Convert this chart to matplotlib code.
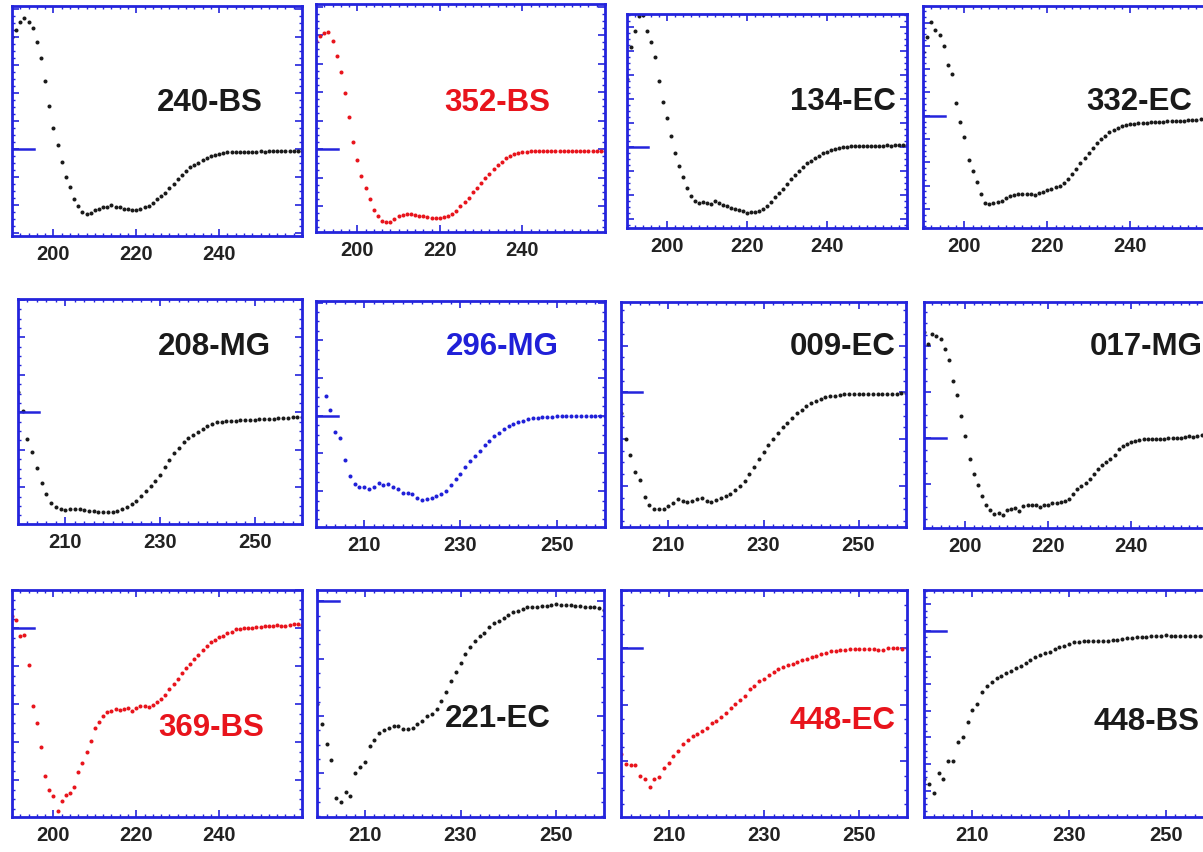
import matplotlib
matplotlib.use('Agg')
import matplotlib.pyplot as plt
from matplotlib.ticker import MultipleLocator
import numpy as np

plt.rcParams['font.family'] = ['Liberation Sans', 'DejaVu Sans']

# CD spectra, mean residue ellipticity (arbitrary 10^3 units), 1 nm steps
names = ['240-BS', '352-BS', '134-EC', '332-EC',
         '208-MG', '296-MG', '009-EC', '017-MG',
         '369-BS', '221-EC', '448-EC', '448-BS']
colours = ['k', 'r', 'k', 'k',
           'k', 'b', 'k', 'k',
           'r', 'k', 'r', 'k']
start_wl = [190, 190, 190, 190,
            200, 202, 200, 190,
            190, 200, 200, 200]
xranges = [(190, 260), (190, 260), (190, 260), (190, 260),
           (200, 260), (200, 260), (200, 260), (190, 260),
           (190, 260), (200, 260), (200, 260), (200, 260)]
yranges = [(-31, 51), (-29.1, 50.9), (-33.6, 55.5), (-48.2, 47.1),
           (-29.8, 30.2), (-29.5, 30.4), (-28.8, 19.3), (-19.5, 29.6),
           (-49.7, 10.1), (-37.6, 2.0), (-29.8, 10.2), (-69.8, 15.2)]
xlabels_a = [200, 220, 240]
xlabels_b = [210, 230, 250]

bs240 = [39.9, 42.3, 45.2, 46.7, 45.2, 43.1, 38.3, 32.4, 24.4, 15.5,
         7.4, 1.4, -4.5, -10.1, -13.7, -17.9, -20.2, -22.4, -23.2, -22.9,
         -21.7, -21.2, -20.8, -20.5, -20.0, -20.5, -20.8, -21.2, -21.4, -21.7,
         -21.7, -21.2, -20.8, -20.2, -19.3, -17.9, -16.7, -15.5, -14.0, -12.5,
         -10.7, -9.3, -7.7, -6.5, -5.6, -4.8, -3.9, -3.3, -2.6, -2.1,
         -1.7, -1.4, -1.2, -1.2, -1.1, -1.0, -1.0, -0.9, -1.0, -0.9,
         -0.8, -0.9, -0.8, -0.8, -0.7, -0.8, -0.7, -0.7, -0.6, -0.7,
         -0.6]
bs352 = [38.0, 39.5, 40.7, 41.2, 38.0, 32.7, 27.1, 19.6, 11.1, 2.6,
         -3.7, -9.4, -13.8, -17.5, -21.3, -23.6, -25.1, -25.7, -25.5, -24.6,
         -23.6, -23.2, -22.8, -22.8, -23.2, -23.4, -23.6, -24.0, -24.2, -24.3,
         -24.2, -24.0, -23.6, -22.8, -21.6, -20.1, -18.5, -17.0, -15.2, -13.6,
         -11.9, -10.3, -8.8, -7.0, -5.6, -4.4, -3.3, -2.5, -1.9, -1.5,
         -1.2, -0.9, -0.8, -0.7, -0.7, -0.7, -0.6, -0.6, -0.6, -0.6,
         -0.6, -0.6, -0.6, -0.6, -0.6, -0.6, -0.6, -0.6, -0.6, -0.6,
         -0.6]
ec134 = [28.5, 41.7, 48.6, 54.6, 55.0, 48.6, 43.8, 37.5, 27.8, 18.8,
         12.1, 4.9, -2.4, -7.6, -12.5, -17.1, -20.4, -22.2, -23.2, -22.9,
         -23.2, -23.6, -22.2, -23.2, -24.0, -24.6, -25.4, -25.7, -26.1, -26.5,
         -27.5, -26.8, -27.1, -26.4, -25.7, -24.6, -22.6, -20.8, -19.0, -17.4,
         -15.3, -13.2, -11.5, -9.7, -8.3, -6.5, -5.6, -4.4, -3.5, -2.5,
         -1.8, -1.1, -0.7, -0.4, 0.0, 0.3, 0.4, 0.5, 0.5, 0.6,
         0.6, 0.5, 0.6, 0.7, 0.7, 0.8, 0.7, 0.8, 0.9, 0.8,
         0.9]
ec332 = [27.4, 34.0, 40.3, 36.9, 34.6, 30.0, 21.7, 17.9, 5.4, -2.6,
         -9.3, -18.9, -23.6, -28.6, -33.6, -37.4, -37.9, -37.4, -37.1, -36.4,
         -35.4, -34.6, -34.0, -33.6, -33.6, -33.4, -33.6, -34.0, -33.1, -32.6,
         -32.1, -31.4, -30.7, -30.0, -28.9, -27.1, -25.0, -22.9, -20.3, -18.3,
         -16.0, -14.0, -11.7, -10.0, -8.6, -7.1, -6.0, -5.1, -4.6, -4.0,
         -3.7, -3.4, -3.3, -3.1, -3.1, -2.9, -2.9, -2.6, -2.6, -2.4,
         -2.3, -2.3, -2.3, -2.1, -2.0, -1.9, -1.7, -1.4, -1.4, -1.3,
         -1.1]
mg208 = [5.3, 0.3, -7.1, -10.7, -14.8, -18.9, -21.8, -24.2, -25.3, -25.8,
         -26.0, -25.8, -25.8, -25.9, -26.0, -26.2, -26.4, -26.5, -26.7, -26.5,
         -26.7, -26.2, -25.8, -25.3, -24.4, -23.6, -22.4, -21.1, -19.7, -18.2,
         -16.7, -14.7, -12.7, -10.9, -9.6, -8.0, -6.9, -6.0, -5.2, -4.4,
         -3.7, -3.1, -2.7, -2.5, -2.4, -2.3, -2.2, -2.1, -2.0, -2.0,
         -2.0, -1.9, -1.8, -1.8, -1.7, -1.6, -1.5, -1.4, -1.3, -1.3,
         -1.3]
mg296 = [5.3, 1.6, -4.4, -6.0, -11.7, -15.9, -18.1, -19.0,
         -19.0, -19.3, -19.0, -17.9, -18.3, -18.1, -19.0, -19.5, -20.4, -20.5,
         -20.8, -21.7, -22.3, -22.1, -21.7, -21.2, -20.8, -19.9, -18.4, -16.8,
         -15.5, -13.7, -11.9, -10.6, -9.3, -7.8, -6.6, -5.3, -4.6, -3.5,
         -2.8, -2.3, -1.8, -1.3, -0.9, -0.7, -0.5, -0.4, -0.3, -0.3,
         -0.2, -0.2, -0.2, 0.0, -0.1, -0.1, -0.1, -0.1, -0.1, -0.1,
         -0.1]
ec009 = [-4.4, -9.9, -13.4, -17.0, -18.7, -22.3, -24.1, -24.9, -24.9, -24.9,
         -24.3, -23.7, -22.9, -23.2, -23.4, -23.2, -22.9, -22.7, -23.2, -23.4,
         -23.0, -22.5, -22.1, -21.8, -20.9, -20.0, -18.9, -17.5, -15.9, -14.3,
         -12.7, -11.3, -9.9, -8.6, -7.5, -6.6, -5.6, -4.4, -3.7, -2.9,
         -2.3, -1.8, -1.4, -1.1, -0.9, -0.7, -0.6, -0.4, -0.4, -0.4,
         -0.4, -0.4, -0.4, -0.4, -0.4, -0.4, -0.3, -0.3, -0.3, -0.2,
         -0.1]
mg017 = [23.0, 20.5, 22.6, 22.2, 21.6, 19.3, 17.0, 12.5, 9.4, 4.9,
         0.4, -4.5, -7.8, -10.1, -12.5, -14.5, -15.5, -16.4, -16.2, -16.7,
         -15.5, -15.4, -15.2, -15.7, -14.8, -14.5, -14.6, -14.5, -15.0, -14.6,
         -14.5, -14.1, -14.1, -13.8, -13.6, -13.2, -12.1, -11.0, -10.4, -9.7,
         -8.8, -7.7, -6.7, -5.9, -5.2, -4.5, -3.6, -2.3, -1.7, -1.2,
         -0.9, -0.5, -0.3, -0.1, -0.1, -0.1, -0.1, -0.1, -0.1, 0.0,
         0.0, 0.0, 0.1, 0.2, 0.4, 0.2, 0.4, 0.6, 0.7, 0.9,
         0.9]
bs369 = [3.3, 2.3, -1.9, -1.8, -9.6, -20.5, -24.9, -31.3, -38.9, -42.5,
         -44.2, -48.0, -45.6, -43.9, -43.3, -41.8, -37.9, -35.4, -32.6, -29.8,
         -26.3, -24.6, -23.0, -22.1, -21.7, -21.2, -21.4, -21.2, -21.1, -21.7,
         -21.1, -20.5, -20.5, -20.8, -20.2, -19.5, -18.6, -17.5, -16.1, -14.6,
         -13.3, -11.8, -10.5, -9.4, -8.1, -7.0, -5.6, -4.7, -3.5, -3.0,
         -2.4, -1.9, -1.2, -0.9, -0.2, -0.2, 0.0, 0.0, 0.2, 0.3,
         0.4, 0.5, 0.5, 0.6, 0.9, 0.5, 0.7, 0.9, 1.1, 1.1,
         0.9]
ec221 = [-17.9, -21.4, -24.9, -27.6, -34.2, -34.9, -33.2, -33.9, -29.9, -28.8,
         -28.0, -25.2, -24.1, -23.0, -22.4, -22.0, -21.7, -21.7, -22.3, -22.2,
         -22.0, -21.4, -20.8, -19.9, -19.7, -18.7, -17.3, -15.8, -13.8, -12.3,
         -10.8, -9.2, -8.0, -6.9, -6.0, -5.5, -4.5, -3.8, -3.4, -2.8,
         -2.4, -1.9, -1.6, -1.3, -1.0, -0.9, -0.9, -0.8, -0.8, -0.6,
         -0.5, -0.6, -0.6, -0.6, -0.8, -0.8, -0.9, -1.0, -1.0, -1.2,
         -1.5]
ec448 = [-18.7, -20.5, -20.6, -20.6, -22.6, -23.1, -24.6, -23.1, -22.8, -21.2,
         -20.3, -19.0, -18.1, -16.9, -16.2, -15.5, -15.2, -14.6, -14.2, -13.2,
         -12.8, -12.2, -11.4, -10.6, -9.9, -9.1, -8.4, -7.2, -6.8, -5.9,
         -5.4, -4.8, -4.3, -3.7, -3.4, -3.0, -2.8, -2.4, -2.2, -1.9,
         -1.6, -1.4, -1.1, -0.9, -0.6, -0.5, -0.4, -0.3, -0.2, -0.2,
         -0.2, -0.2, -0.2, -0.2, -0.3, -0.4, -0.1, 0.0, -0.1, -0.2,
         -0.1]
bs448 = [-55.4, -57.5, -60.9, -53.4, -55.4, -48.8, -48.8, -41.9, -40.0, -34.4,
         -29.6, -27.5, -22.9, -20.9, -19.4, -17.9, -17.1, -15.9, -15.0, -14.1,
         -13.1, -12.1, -10.9, -10.0, -9.1, -8.4, -7.9, -6.9, -6.3, -5.9,
         -5.0, -4.1, -4.1, -3.9, -3.9, -3.9, -3.8, -3.8, -3.8, -3.4,
         -3.4, -3.1, -2.9, -2.9, -2.5, -2.5, -2.3, -2.1, -1.9, -1.9,
         -1.6, -1.9, -1.9, -1.9, -1.9, -1.9, -2.1, -2.1, -2.1, -2.3,
         -2.4]

spectra = [bs240, bs352, ec134, ec332, mg208, mg296, ec009, mg017,
           bs369, ec221, ec448, bs448]

# layout (pixels in the 1203x853 picture): left, right, top, bottom of each frame
W, H = 1203, 853
frames = [(12, 302, 7, 237), (316, 605, 5, 233), (627, 907, 15, 229), (923, 1213, 7, 229),
          (18, 302, 300, 525), (316, 605, 302, 528), (621, 906, 303, 528), (924, 1214, 303, 529),
          (12, 302, 591, 818), (317, 604, 591, 818), (621, 907, 591, 818), (924, 1214, 591, 818)]
label_pos = [(210, 103), (497, 103), (843, 102), (1139, 102),
             (214, 347), (502, 347), (843, 347), (1146, 347),
             (211, 728), (498, 719), (843, 721), (1146, 722)]

blue = '#2424dc'
colour_map = {'k': '#1a1a1a', 'r': '#e8141c', 'b': '#2020d8'}

fig = plt.figure(figsize=(W / 100, H / 100), dpi=100)

for i in range(12):
    l, r, t, b = frames[i]
    ax = fig.add_axes([l / W, 1 - b / H, (r - l) / W, (b - t) / H])
    wl = np.arange(start_wl[i], start_wl[i] + len(spectra[i]))
    c = colour_map[colours[i]]
    ax.plot(wl, spectra[i], 'o', ms=2.9, color=c, mec='none')
    # short zero marker at left
    ax.axhline(0, xmin=0, xmax=0.075, color=blue, lw=1.8)
    ax.set_xlim(xranges[i])
    ax.set_ylim(yranges[i])
    if xranges[i][0] == 190:
        ax.set_xticks(xlabels_a)
    else:
        ax.set_xticks(xlabels_b)
    ax.xaxis.set_minor_locator(MultipleLocator(2))
    ax.yaxis.set_major_locator(MultipleLocator(10))
    ax.yaxis.set_minor_locator(MultipleLocator(2.5))
    ax.tick_params(which='both', direction='in', top=True, right=True,
                   color=blue, labelleft=False)
    ax.tick_params(which='major', length=5, width=1.2)
    ax.tick_params(which='minor', length=2.5, width=1.0)
    ax.tick_params(axis='x', labelsize=14.5, pad=5.5, labelcolor='#222222')
    for lab in ax.get_xticklabels():
        lab.set_fontweight('bold')
    for sp in ax.spines.values():
        sp.set_color(blue)
        sp.set_linewidth(2.0)
    lx, ly = label_pos[i]
    fig.text(lx / W, 1 - ly / H, names[i], ha='center', va='center',
             fontsize=22.5, fontweight='bold', color=c)

fig.savefig('out.png', dpi=100)
